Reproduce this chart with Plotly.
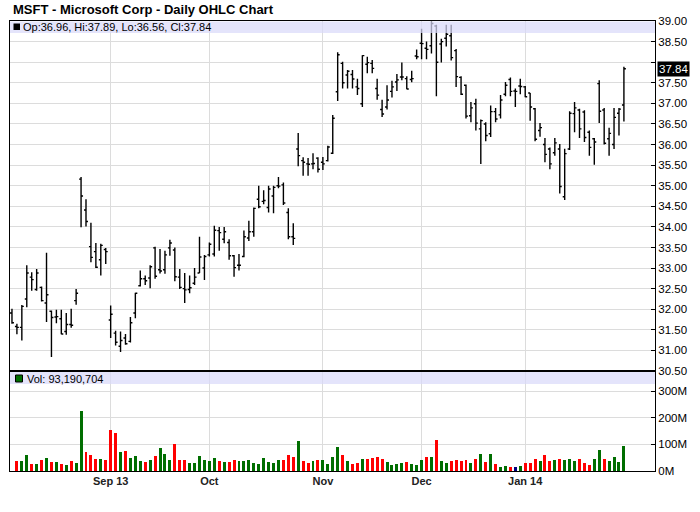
import pandas as pd
import plotly.graph_objects as go
from plotly.subplots import make_subplots

# ---------------- data ----------------
holidays = ['2013-09-02', '2013-11-28', '2013-12-25', '2014-01-01', '2014-01-20']
dates = [d.strftime('%Y-%m-%d') for d in pd.bdate_range('2013-08-05', '2014-01-31')
         if d.strftime('%Y-%m-%d') not in holidays]

opens = [
    31.91, 31.58, 31.56, 32.25, 32.78, 32.48, 32.53, 32.15, 31.95, 31.81,
    31.77, 31.46, 31.63, 32.21, 35.16, 34.41, 33.52, 33.40, 33.20, 33.45,
    31.74, 31.42, 31.10, 31.30, 31.22, 31.91, 32.57, 32.74, 32.76, 33.49,
    32.96, 32.96, 33.49, 33.44, 32.78, 32.50, 32.48, 32.63, 32.88, 33.00,
    33.32, 33.34, 33.91, 33.70, 33.62, 33.30, 33.07, 33.28, 33.73, 33.88,
    34.67, 34.62, 34.47, 34.75, 35.00, 35.02, 34.35, 33.76, 35.89, 35.61,
    35.53, 35.53, 35.67, 35.57, 35.61, 35.79, 37.28, 37.97, 37.69, 37.70,
    37.40, 36.99, 37.95, 37.97, 37.36, 36.85, 36.91, 37.29, 37.52, 37.64,
    37.60, 37.58, 38.15, 38.46, 38.34, 38.40, 38.88, 38.44, 38.58, 38.64,
    38.28, 37.63, 37.44, 36.70, 36.99, 36.38, 36.50, 36.26, 36.80, 36.72,
    37.22, 37.58, 37.30, 37.42, 37.40, 37.25, 36.87, 36.34, 36.00, 35.89,
    35.80, 35.89, 34.73, 35.89, 36.75, 36.84, 36.79, 36.30, 36.14, 37.48,
    36.84, 36.14, 36.00, 36.76, 36.96]

highs = [
    32.01, 31.65, 32.10, 33.07, 32.90, 32.98, 32.55, 33.37, 31.97, 31.99,
    31.99, 31.91, 32.01, 32.49, 35.21, 34.67, 34.10, 33.61, 33.59, 33.49,
    32.09, 31.48, 31.46, 31.40, 31.81, 32.40, 32.94, 32.82, 33.07, 33.52,
    33.46, 33.42, 33.69, 33.50, 32.98, 32.88, 32.82, 33.00, 33.76, 33.32,
    33.62, 34.03, 34.00, 34.00, 33.70, 33.32, 33.34, 33.91, 34.15, 34.47,
    35.00, 34.89, 35.00, 35.00, 35.21, 35.08, 34.45, 34.09, 36.28, 35.69,
    35.67, 35.79, 35.69, 35.70, 35.97, 36.72, 38.24, 38.01, 37.81, 37.81,
    37.60, 38.17, 38.13, 38.05, 37.60, 37.09, 37.44, 37.55, 37.71, 37.99,
    37.66, 37.79, 38.31, 38.81, 38.50, 38.99, 38.91, 38.57, 38.91, 38.91,
    38.32, 37.66, 37.46, 37.03, 37.11, 36.61, 36.54, 36.95, 36.89, 37.20,
    37.52, 37.63, 37.36, 37.60, 37.42, 37.25, 36.89, 36.52, 36.16, 35.93,
    36.16, 36.01, 35.90, 36.81, 37.03, 36.87, 36.83, 36.34, 36.16, 37.56,
    36.89, 36.41, 36.89, 36.89, 37.89]

lows = [
    31.65, 31.39, 31.24, 32.05, 32.45, 32.45, 32.19, 31.69, 30.84, 31.66,
    31.39, 31.38, 31.55, 32.11, 33.99, 34.01, 33.14, 33.00, 32.82, 33.10,
    31.30, 31.12, 30.96, 31.14, 31.19, 31.78, 32.55, 32.59, 32.51, 32.74,
    32.87, 32.86, 33.30, 32.68, 32.49, 32.15, 32.39, 32.59, 32.88, 32.71,
    33.28, 33.28, 33.42, 33.60, 33.20, 32.79, 32.94, 33.26, 33.66, 33.76,
    34.45, 34.55, 34.35, 34.33, 34.94, 34.53, 33.70, 33.56, 35.47, 35.24,
    35.24, 35.40, 35.32, 35.38, 35.59, 35.77, 37.06, 37.36, 37.36, 37.36,
    37.20, 36.91, 37.73, 37.73, 37.09, 36.67, 36.85, 37.14, 37.30, 37.56,
    37.34, 37.51, 38.07, 38.07, 38.07, 38.21, 37.17, 37.99, 38.38, 38.04,
    37.40, 37.20, 36.63, 36.54, 36.34, 35.53, 36.08, 36.18, 36.54, 36.63,
    37.17, 37.17, 36.91, 37.22, 37.15, 36.58, 36.08, 36.19, 35.57, 35.40,
    35.73, 34.81, 34.65, 35.87, 36.30, 36.16, 36.06, 35.73, 35.51, 36.52,
    36.00, 35.73, 35.89, 36.22, 36.56]

closes = [
    31.67, 31.56, 32.07, 32.88, 32.72, 32.88, 32.21, 32.35, 31.80, 31.82,
    31.40, 31.63, 31.61, 32.39, 34.75, 34.13, 33.26, 33.02, 33.55, 33.40,
    31.88, 31.20, 31.24, 31.16, 31.67, 32.39, 32.74, 32.69, 33.03, 32.80,
    32.93, 33.32, 33.61, 32.79, 32.53, 32.47, 32.52, 32.78, 33.27, 33.28,
    33.58, 33.92, 33.86, 33.88, 33.30, 33.01, 33.07, 33.76, 33.88, 34.45,
    34.49, 34.64, 34.92, 34.96, 34.99, 34.58, 33.76, 33.72, 35.73, 35.57,
    35.52, 35.54, 35.40, 35.53, 35.94, 36.64, 38.18, 37.50, 37.78, 37.59,
    37.36, 38.16, 37.99, 37.85, 37.20, 36.74, 37.08, 37.40, 37.57, 37.64,
    37.35, 37.60, 38.13, 38.45, 38.31, 38.94, 38.00, 38.50, 38.68, 38.11,
    37.65, 37.22, 36.69, 36.89, 36.52, 36.58, 36.22, 36.80, 36.62, 37.08,
    37.44, 37.29, 37.29, 37.41, 37.16, 36.91, 36.13, 36.41, 35.76, 35.53,
    36.04, 34.98, 35.78, 36.76, 36.89, 36.38, 36.17, 35.93, 36.06, 36.81,
    36.03, 36.27, 36.66, 36.86, 37.84]

volumes_m = [
    None, 37.5, 37.5, 60, 26, 26, 41, 49, 34, 34,
    26, 22.5, 37.5, 30, 225, 71, 60, 45, 45, 41,
    154, 142, 71, 75, 49, 56, 37.5, 34, 41, 56,
    86, 64, 41, 101, 41, 41, 30, 30, 56, 41,
    37.5, 49, 37.5, 34, 34, 41, 37.5, 37.5, 41, 30,
    26, 49, 34, 30, 41, 41, 60, 52, 112, 37.5,
    30, 37.5, 41, 41, 26, 52, 90, 60, 37.5, 26,
    30, 45, 45, 49, 52, 45, 34, 22.5, 26, 30,
    34, 26, 22.5, 41, 52, 52, 116, 37.5, 30, 37.5,
    41, 37.5, 41, 30, 45, 64, 34, 64, 26, 15,
    19, 15, 15, 19, 30, 30, 45, 37.5, 60, 37.5,
    41, 45, 41, 45, 37.5, 45, 30, 22.5, 45, 79,
    45, 37.5, 52, 34, 93.190704]

month_ticks = ['2013-09-03', '2013-10-01', '2013-11-01', '2013-12-02', '2014-01-02']
month_labels = ['Sep 13', 'Oct', 'Nov', 'Dec', 'Jan 14']
price_ticks = [30.5, 31.0, 31.5, 32.0, 32.5, 33.0, 33.5, 34.0, 34.5,
               35.0, 35.5, 36.0, 36.5, 37.0, 37.5, 38.0, 38.5, 39.0]
vol_ticks = [0, 100, 200, 300]
vol_labels = ['0M', '100M', '200M', '300M']

title_text = 'MSFT - Microsoft Corp - Daily OHLC Chart'
last_vol_text = 'Vol: 93,190,704'

# ---------------- styling ----------------
GREEN = '#006e00'
RED = '#ff0000'
NAVY = '#000080'
GRID = '#dcdcdc'
BAND = 'rgba(218,218,250,0.72)'
FONT = 'Liberation Sans, Arial, sans-serif'

W, H = 700, 512
ML, MR, MT, MB = 10, 45, 21, 41
PW = W - ML - MR
PH = H - MT - MB
PRICE_H = 350


def px_x(p):
    return (p - ML) / PW


def px_y(p):
    return (H - MB - p) / PH


vol_colors = []
for i, c in enumerate(closes):
    prev = closes[i - 1] if i > 0 else c
    vol_colors.append(GREEN if c > prev else (RED if c < prev else NAVY))

last = len(closes) - 1
price_text = ['' if abs(v - closes[last]) < 0.25 else f'{v:.2f}' for v in price_ticks]
legend_text = (f'Op:{opens[last]:.2f}, Hi:{highs[last]:.2f}, '
               f'Lo:{lows[last]:.2f}, Cl:{closes[last]:.2f}')

fig = make_subplots(rows=2, cols=1, shared_xaxes=True, vertical_spacing=0,
                    row_heights=[PRICE_H / PH, 1 - PRICE_H / PH])

fig.add_trace(go.Ohlc(
    x=dates, open=opens, high=highs, low=lows, close=closes,
    increasing=dict(line=dict(color='black', width=1.4)),
    decreasing=dict(line=dict(color='black', width=1.4)),
    tickwidth=0.4, hoverinfo='skip', showlegend=False), row=1, col=1)

fig.add_trace(go.Bar(
    x=dates, y=volumes_m, marker=dict(color=vol_colors, line=dict(width=0)),
    width=0.6, hoverinfo='skip', showlegend=False), row=2, col=1)

xcommon = dict(type='category', categoryorder='array', categoryarray=dates,
               range=[-0.4, 130.3], showgrid=True, gridcolor=GRID, gridwidth=1,
               tickmode='array', tickvals=month_ticks, ticktext=month_labels,
               ticks='', showline=True, linecolor='black', linewidth=1, mirror=True,
               zeroline=False, fixedrange=True, automargin=False)
fig.update_xaxes(**xcommon)
fig.update_xaxes(showticklabels=False, rangeslider=dict(visible=False), row=1, col=1)
fig.update_xaxes(showticklabels=True, row=2, col=1,
                 tickfont=dict(family=FONT, size=11, color='#222', weight='bold'),
                 ticklabelstandoff=0)

ycommon = dict(side='right', showgrid=True, gridcolor=GRID, gridwidth=1,
               ticks='inside', ticklen=4, tickcolor='black', tickwidth=1,
               showline=True, linecolor='black', linewidth=1, mirror=True,
               zeroline=False, fixedrange=True, automargin=False,
               tickfont=dict(family=FONT, size=11.5, color='black'))
fig.update_yaxes(**ycommon)
fig.update_yaxes(range=[30.5, 39.0], tickmode='array', tickvals=price_ticks,
                 ticktext=price_text, row=1, col=1)
fig.update_yaxes(range=[0, 376], tickmode='array', tickvals=vol_ticks,
                 ticktext=vol_labels, row=2, col=1)

shapes = [
    # legend bands
    dict(type='rect', xref='paper', yref='paper', x0=0, x1=1,
         y0=px_y(33), y1=px_y(21.6), fillcolor=BAND, line=dict(width=0), layer='above'),
    dict(type='rect', xref='paper', yref='paper', x0=0, x1=1,
         y0=px_y(384), y1=px_y(372), fillcolor=BAND, line=dict(width=0), layer='above'),
    # panel separator
    dict(type='line', xref='paper', yref='paper', x0=0, x1=1,
         y0=px_y(371), y1=px_y(371), line=dict(color='black', width=2.2), layer='above'),
    # legend markers
    dict(type='rect', xref='paper', yref='paper', x0=px_x(13.5), x1=px_x(20),
         y0=px_y(30), y1=px_y(23.5), fillcolor='black', line=dict(width=0), layer='above'),
    dict(type='rect', xref='paper', yref='paper', x0=px_x(15.5), x1=px_x(22.5),
         y0=px_y(382), y1=px_y(375), fillcolor=GREEN, line=dict(color='black', width=1),
         layer='above'),
]

annotations = [
    dict(text=title_text, xref='paper', yref='paper', x=px_x(11), y=px_y(9.5),
         xanchor='left', yanchor='middle', showarrow=False,
         font=dict(family=FONT, size=13, color='black', weight='bold')),
    dict(text=legend_text, xref='paper', yref='paper', x=px_x(20.5), y=px_y(27),
         xanchor='left', yanchor='middle', showarrow=False,
         font=dict(family=FONT, size=11, color='black')),
    dict(text=last_vol_text, xref='paper', yref='paper', x=px_x(25), y=px_y(378.5),
         xanchor='left', yanchor='middle', showarrow=False,
         font=dict(family=FONT, size=11, color='black')),
    dict(text=f'{closes[last]:.2f}', xref='paper', yref='y', x=1, y=closes[last],
         xanchor='left', yanchor='middle', xshift=2, showarrow=False,
         bgcolor='black', borderpad=1,
         font=dict(family=FONT, size=11.5, color='white')),
]

fig.update_layout(
    width=W, height=H, margin=dict(l=ML, r=MR, t=MT, b=MB, autoexpand=False),
    plot_bgcolor='white', paper_bgcolor='white', showlegend=False,
    bargap=0, shapes=shapes, annotations=annotations, hovermode=False,
)

fig.write_html('out.html', config={'displayModeBar': False, 'staticPlot': True},
               post_script="document.body.style.margin='0px';document.body.style.padding='0px';")
